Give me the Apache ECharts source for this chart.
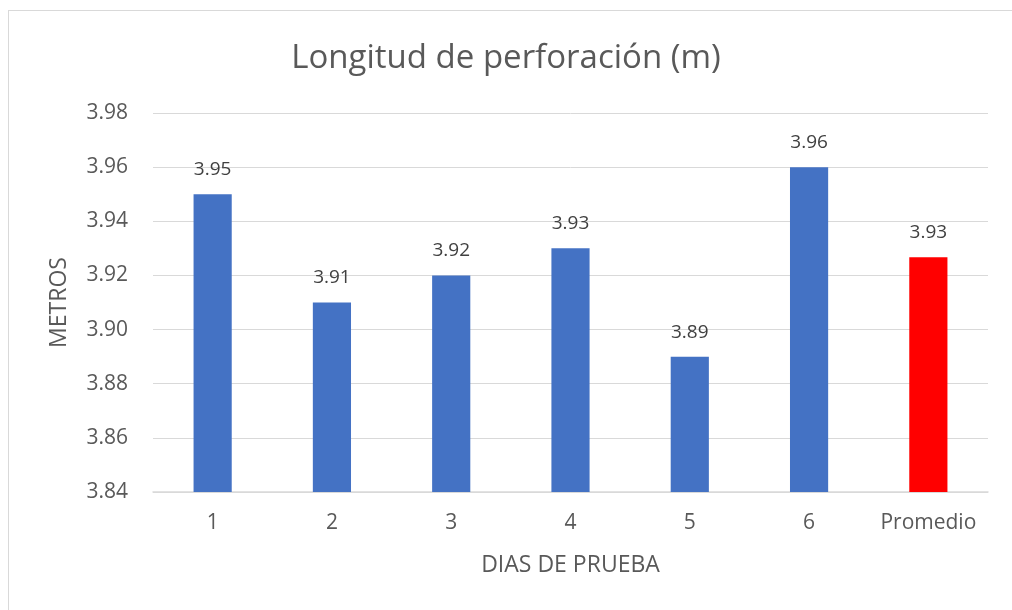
<!DOCTYPE html>
<html>
<head>
<meta charset="utf-8">
<script src="https://cdn.jsdelivr.net/npm/echarts@6/dist/echarts.min.js"></script>
<style>
  html, body { margin: 0; padding: 0; background: #fff; }
  #frame {
    position: absolute; left: 8px; top: 10px;
    width: 1010px; height: 610px;
    border: 1px solid #d9d9d9; box-sizing: border-box;
  }
  #chart { position: absolute; left: 0; top: 0; width: 1012px; height: 610px; }
</style>
</head>
<body>
<div id="frame"></div>
<div id="chart"></div>
<script>
// datos del grafico
var dias = ["1", "2", "3", "4", "5", "6", "Promedio"];
var longitud = [3.95, 3.91, 3.92, 3.93, 3.89, 3.96, 3.9267];
var colores = ["#4472c4", "#4472c4", "#4472c4", "#4472c4", "#4472c4", "#4472c4", "#ff0000"];

var fuente = '"Open Sans", "Noto Sans", sans-serif';
var chart = echarts.init(document.getElementById("chart"));
chart.setOption({
  animation: false,
  textStyle: { fontFamily: fuente },
  title: {
    text: "Longitud de perforación (m)",
    left: "center",
    top: 37,
    textStyle: { fontSize: 33, fontWeight: "normal", color: "#595959", fontFamily: fuente }
  },
  grid: { left: 153, right: 24, top: 113, bottom: 118 },
  xAxis: {
    type: "category",
    data: dias,
    name: "DIAS DE PRUEBA",
    nameLocation: "middle",
    nameGap: 62,
    nameTextStyle: { fontSize: 23, color: "#595959" },
    axisLine: { lineStyle: { color: "#d9d9d9", width: 1.5 } },
    axisTick: { show: false },
    axisLabel: { interval: 0, fontSize: 21, color: "#595959", margin: 21 }
  },
  yAxis: {
    type: "value",
    min: 3.84,
    max: 3.98,
    interval: 0.02,
    name: "METROS",
    nameLocation: "middle",
    nameGap: 82,
    nameTextStyle: { fontSize: 23, color: "#595959" },
    axisLine: { show: false },
    axisTick: { show: false },
    axisLabel: {
      fontSize: 21, color: "#595959", margin: 25,
      formatter: function (v) { return v.toFixed(2); }
    },
    splitLine: { lineStyle: { color: "#d9d9d9", width: 1 } }
  },
  series: [{
    type: "bar",
    barWidth: "32%",
    data: longitud.map(function (v, i) {
      return { value: v, itemStyle: { color: colores[i] } };
    }),
    label: {
      show: true,
      position: "top",
      distance: 15,
      fontSize: 19,
      color: "#404040",
      formatter: function (p) { return p.value.toFixed(2); }
    }
  }]
});
</script>
</body>
</html>
